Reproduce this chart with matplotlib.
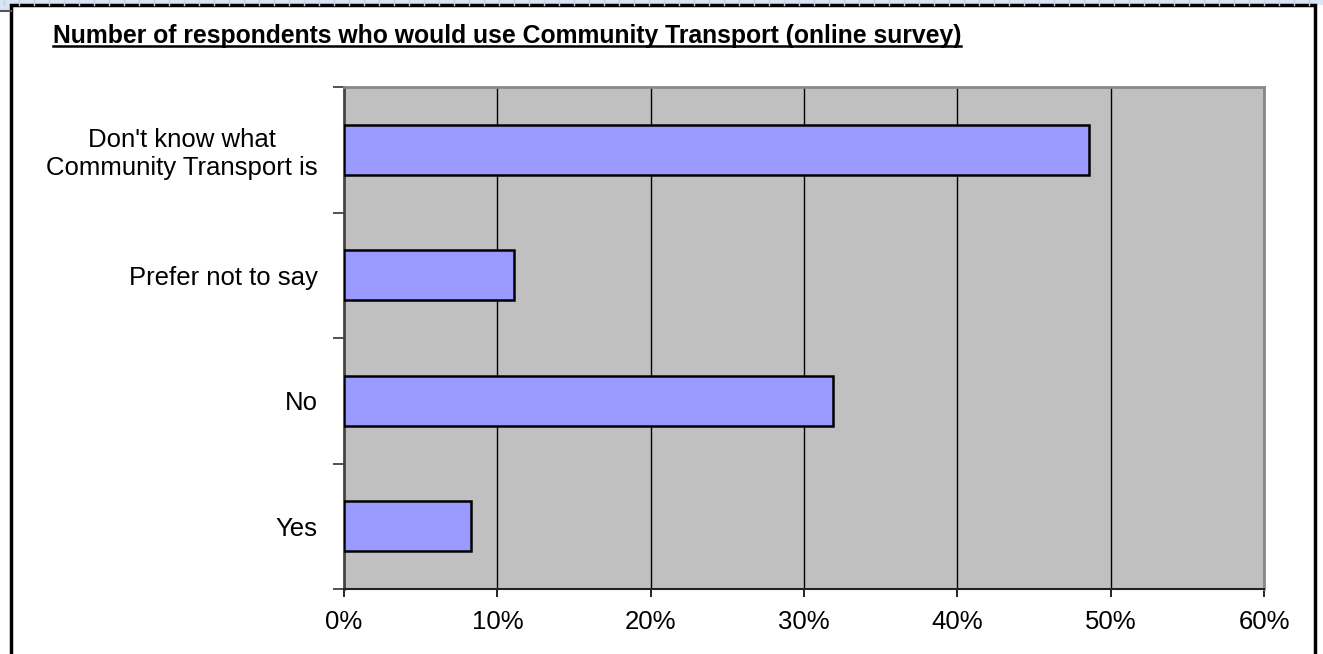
import matplotlib.pyplot as plt
from matplotlib.patches import Rectangle
from matplotlib.lines import Line2D
from matplotlib.ticker import FixedLocator, FuncFormatter

plt.rcParams['font.family'] = ['Liberation Sans', 'DejaVu Sans']

categories = ['Yes', 'No', 'Prefer not to say',
              "Don't know what\nCommunity Transport is"]
shares = [8.3, 31.9, 11.1, 48.6]
x_ticks = [0, 10, 20, 30, 40, 50, 60]
title = 'Number of respondents who would use Community Transport (online survey)'

W, H = 1323, 654
fig = plt.figure(figsize=(W / 100, H / 100), dpi=100)
fig.patch.set_facecolor('white')

# spreadsheet strip behind the chart object (top edge)
strip = fig.add_axes([0, 0, 1, 1], zorder=-5)
strip.set_xlim(0, W)
strip.set_ylim(H, 0)
strip.axis('off')
strip.add_patch(Rectangle((0, 0), W, 5, facecolor='#dae5f2', edgecolor='none'))
strip.add_patch(Rectangle((0, 0), 11, 11, facecolor='#dae5f2', edgecolor='none'))
for gx in range(4, W, 15):
    strip.plot([gx, gx], [0, 5], color='#c3d2e6', lw=1)
strip.plot([0, 11], [11, 11], color='#555555', lw=1.5)
# chart border
strip.add_patch(Rectangle((11, 5), 1304, 700, facecolor='white',
                          edgecolor='black', lw=2.5))

ax = fig.add_axes([344 / W, 1 - 589 / H, (1264 - 344) / W, (589 - 87) / H])
ax.set_facecolor('#c0c0c0')

ypos = list(range(len(categories)))
ax.barh(ypos, shares, height=0.4, color='#9999ff', edgecolor='black',
        linewidth=1.8, zorder=3)

ax.set_xlim(0, 60)
ax.set_ylim(-0.5, len(categories) - 0.5)
ax.xaxis.set_major_locator(FixedLocator(x_ticks))
ax.xaxis.set_major_formatter(FuncFormatter(lambda v, p: f'{v:.0f}%'))
ax.grid(axis='x', color='black', lw=1, zorder=1)
ax.set_axisbelow(True)

ax.set_yticks(ypos)
ax.set_yticklabels(categories, multialignment='center')
ax.set_yticks([i - 0.5 for i in range(len(categories) + 1)], minor=True)
ax.tick_params(axis='y', which='major', length=0, pad=19, labelsize=18.5)
ax.tick_params(axis='y', which='minor', length=8, width=1.2, color='#333333')
ax.tick_params(axis='x', length=6, width=1.2, pad=9, labelsize=18.5)

for side in ['top', 'right']:
    ax.spines[side].set_color('#888888')
    ax.spines[side].set_linewidth(2)
ax.spines['left'].set_color('#444444')
ax.spines['left'].set_linewidth(2)
ax.spines['bottom'].set_color('#222222')
ax.spines['bottom'].set_linewidth(1.5)

t = fig.text(53 / W, 1 - 42.5 / H, title, ha='left', va='baseline',
             fontsize=17.8, fontweight='bold')
fig.canvas.draw()
bb = t.get_window_extent()
fig.add_artist(Line2D([bb.x0 / W, bb.x1 / W], [1 - 46 / H, 1 - 46 / H],
                      color='black', lw=1.8))

fig.savefig('out.png', dpi=100)
